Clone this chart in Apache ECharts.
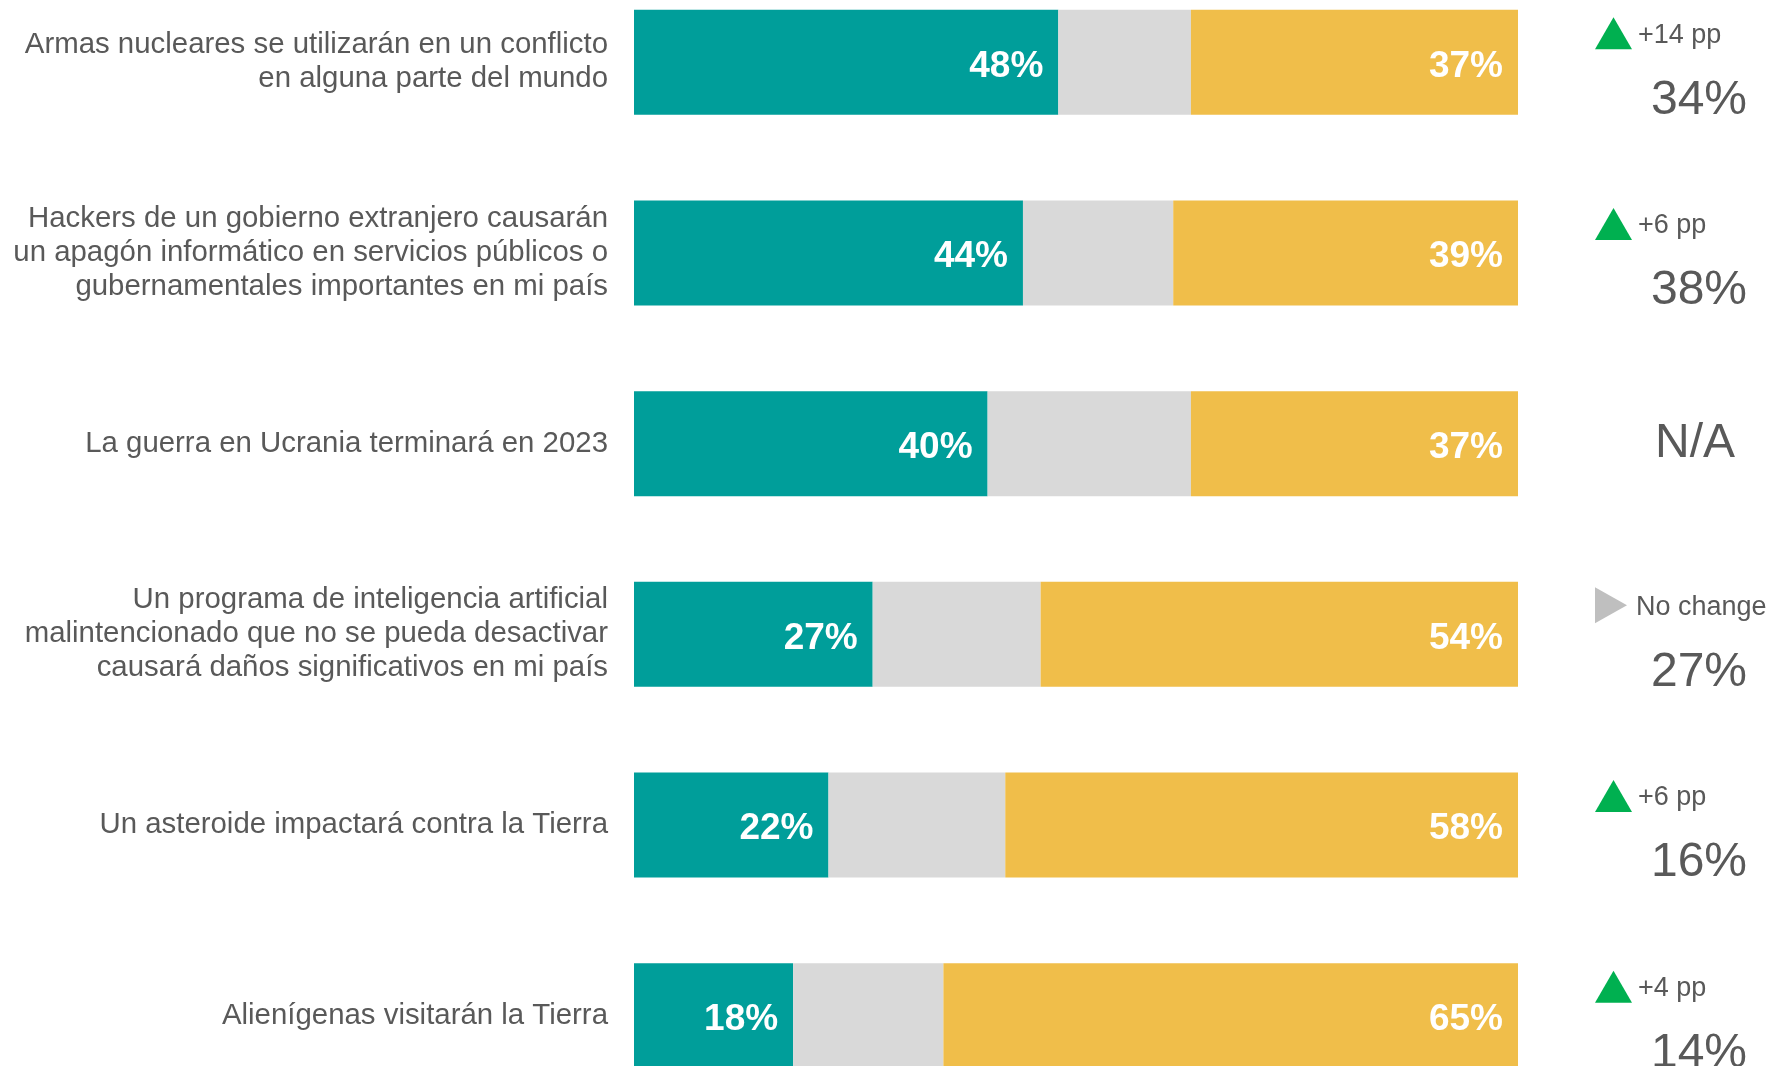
<!DOCTYPE html>
<html>
	<head>
		<meta charset="utf-8">
		<title></title>
		<script src='https://cdn.jsdelivr.net/npm/echarts@6.0.0/dist/echarts.min.js'></script>
		<style>
			html,body{margin:0;padding:0;background:#fff;}
			#chart{
				width: 1775px;
				height: 1066px;
			}
		</style>
	</head>
	<body>
		<div id="chart"></div>
		<script>
            // datos
            const categories = [
                'Armas nucleares se utilizarán en un conflicto\nen alguna parte del mundo',
                'Hackers de un gobierno extranjero causarán\nun apagón informático en servicios públicos o\ngubernamentales importantes en mi país',
                'La guerra en Ucrania terminará en 2023',
                'Un programa de inteligencia artificial\nmalintencionado que no se pueda desactivar\ncausará daños significativos en mi país',
                'Un asteroide impactará contra la Tierra',
                'Alienígenas visitarán la Tierra'
            ];
            const agree = [48, 44, 40, 27, 22, 18];
            const neutral = [15, 17, 23, 19, 20, 17];
            const disagree = [37, 39, 37, 54, 58, 65];
            const changeText = ['+14 pp', '+6 pp', '', 'No change', '+6 pp', '+4 pp'];
            const changeDir = ['up', 'up', '', 'flat', 'up', 'up'];
            const previous = ['34%', '38%', 'N/A', '27%', '16%', '14%'];

            const font = 'Arial, "Liberation Sans", sans-serif';
            const grey = '#595959';

			const chart = echarts.init(document.getElementById('chart'), null, {renderer: 'canvas'});

            const barLabel = {
                show: true,
                position: 'insideRight',
                distance: 15,
                offset: [0, 4],
                color: '#fff',
                fontSize: 37,
                fontWeight: 'bold',
                fontFamily: font,
                formatter: p => p.value + '%'
            };

            option = {
                backgroundColor: '#fff',
                animation: false,
                grid: {
                    left: 634,
                    width: 884,
                    top: -33,
                    height: 1144,
                    containLabel: false,
                    outerBoundsMode: 'none'
                },
                xAxis: {
                    type: 'value',
                    min: 0,
                    max: 100,
                    show: false
                },
                yAxis: {
                    type: 'category',
                    inverse: true,
                    data: categories,
                    axisLine: {show: false},
                    axisTick: {show: false},
                    axisLabel: {
                        margin: 26,
                        color: grey,
                        fontSize: 29.4,
                        lineHeight: 34,
                        padding: [6, 0, 0, 0],
                        fontFamily: font,
                        align: 'right'
                    }
                },
                series: [
                    {
                        name: 'agree',
                        type: 'bar',
                        stack: 'total',
                        barWidth: 105,
                        itemStyle: {color: '#009E9A'},
                        label: barLabel,
                        data: agree
                    },
                    {
                        name: 'neutral',
                        type: 'bar',
                        stack: 'total',
                        barWidth: 105,
                        itemStyle: {color: '#D9D9D9'},
                        data: neutral
                    },
                    {
                        name: 'disagree',
                        type: 'bar',
                        stack: 'total',
                        barWidth: 105,
                        itemStyle: {color: '#F0BE4A'},
                        label: barLabel,
                        data: disagree
                    },
                    {
                        // columna de cambio y valor anterior
                        type: 'custom',
                        clip: false,
                        silent: true,
                        encode: {x: 0, y: 1},
                        data: categories.map((c, i) => [100, i]),
                        renderItem: function(params, api){
                            const i = api.value(1);
                            const pt = api.coord([100, i]);
                            const x = pt[0], y = pt[1];
                            const children = [];
                            if(changeDir[i] === 'up'){
                                children.push({
                                    type: 'polygon',
                                    shape: {points: [[x + 77, y - 13], [x + 114, y - 13], [x + 95.5, y - 45]]},
                                    style: {fill: '#00B050'}
                                });
                            }else if(changeDir[i] === 'flat'){
                                children.push({
                                    type: 'polygon',
                                    shape: {points: [[x + 77, y - 47], [x + 77, y - 11], [x + 109, y - 29]]},
                                    style: {fill: '#BFBFBF'}
                                });
                            }
                            if(changeText[i]){
                                children.push({
                                    type: 'text',
                                    style: {
                                        x: changeDir[i] === 'flat' ? x + 118 : x + 120,
                                        y: y - 27,
                                        text: changeText[i],
                                        fill: grey,
                                        font: '27px ' + font,
                                        textAlign: 'left',
                                        textVerticalAlign: 'middle'
                                    }
                                });
                            }
                            const isNA = previous[i] === 'N/A';
                            children.push({
                                type: 'text',
                                style: {
                                    x: x + (isNA ? 177 : 181),
                                    y: isNA ? y : y + 38,
                                    text: previous[i],
                                    fill: grey,
                                    font: '48px ' + font,
                                    textAlign: 'center',
                                    textVerticalAlign: 'middle'
                                }
                            });
                            return {type: 'group', children: children};
                        }
                    }
                ]
            };
			chart.setOption(option);
		</script>
	</body>
</html>
